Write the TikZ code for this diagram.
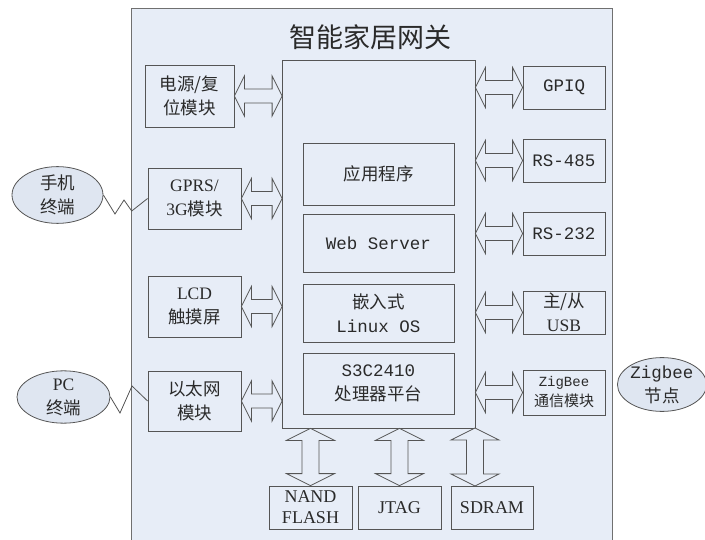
\documentclass[tikz,border=0pt]{standalone}
\usepackage{fontspec}
\setmainfont{Liberation Serif}
\setmonofont{Liberation Mono}
\newfontfamily\cjk{Noto Sans CJK SC}
\usetikzlibrary{calc,shapes.geometric}
\definecolor{bgc}{HTML}{E7EDF7}
\definecolor{elc}{HTML}{DFE6F1}
\definecolor{linec}{HTML}{555555}
\definecolor{outc}{HTML}{707070}
\definecolor{txt}{HTML}{2A2A2A}
\newcommand{\zh}{\cjk\fontsize{17.5}{24}\selectfont}
\newcommand{\mo}{\ttfamily\fontsize{17.5}{24}\selectfont}
\tikzset{
  box/.style={draw=linec, line width=0.8pt, inner sep=0pt, align=center, text=txt,
    font=\fontsize{17.5}{24}\selectfont},
  ell/.style={ellipse, draw=linec, line width=0.8pt, fill=elc, inner sep=0pt, align=center,
    text=txt, font=\fontsize{17.5}{24}\selectfont},
  dbl/.style={draw=linec, line width=0.8pt, fill=bgc, line join=miter},
  hdbl/.style={dbl, to path={let \p1=(\tikztostart), \p2=(\tikztotarget) in
    -- (\x1+10pt,\y1+20pt) -- (\x1+10pt,\y1+7pt) -- (\x2-10pt,\y1+7pt) -- (\x2-10pt,\y1+20pt)
    -- (\x2,\y1) -- (\x2-10pt,\y1-20pt) -- (\x2-10pt,\y1-7pt) -- (\x1+10pt,\y1-7pt)
    -- (\x1+10pt,\y1-20pt) -- cycle}},
  vdbl/.style={dbl, to path={let \p1=(\tikztostart), \p2=(\tikztotarget) in
    -- (\x1+24pt,\y1-12pt) -- (\x1+8.5pt,\y1-12pt) -- (\x1+8.5pt,\y2+12pt) -- (\x1+24pt,\y2+12pt)
    -- (\x1,\y2) -- (\x1-24pt,\y2+12pt) -- (\x1-8.5pt,\y2+12pt) -- (\x1-8.5pt,\y1-12pt)
    -- (\x1-24pt,\y1-12pt) -- cycle}},
  zz/.style={draw=linec, line width=0.8pt, line join=miter}
}
\begin{document}
\begin{tikzpicture}[x=1pt,y=-1pt]
\useasboundingbox (0,0) rectangle (705,540);
% gateway frame
\fill[bgc] (131,9) rectangle (612,545);
\draw[outc, line width=1pt] (131,545) -- (131,9) -- (612,9) -- (612,545);
\node[text=txt, font=\cjk\fontsize{27}{30}\selectfont] (title) at (370,37) {智能家居网关};
% cpu
\node[box, minimum width=192.5pt, minimum height=368pt] (cpu) at (378.75,244) {};
\node[box, minimum width=151pt, minimum height=62pt] (app) at (378.5,174) {\zh 应用程序};
\node[box, minimum width=151pt, minimum height=58pt] (web) at (378.5,243) {\mo Web Server};
\node[box, minimum width=151pt, minimum height=58pt] (os) at (378.5,313) {\zh 嵌入式\\\mo Linux OS};
\node[box, minimum width=151pt, minimum height=61pt] (soc) at (378.5,383.5) {\mo S3C2410\\\zh 处理器平台};
% left modules
\node[box, minimum width=89pt, minimum height=62pt] (pwr) at (189.5,96) {\zh 电源/复\\\zh 位模块};
\node[box, minimum width=93pt, minimum height=61pt] (gprs) at (194.5,198.5) {GPRS/\\3G{\zh 模块}};
\node[box, minimum width=93pt, minimum height=61pt] (lcd) at (194.5,306.5) {LCD\\\zh 触摸屏};
\node[box, minimum width=93pt, minimum height=60pt] (eth) at (194.5,401) {\zh 以太网\\\zh 模块};
% right modules
\node[box, minimum width=82pt, minimum height=43pt] (gpiq) at (564,87.5) {\mo GPIQ};
\node[box, minimum width=82pt, minimum height=43pt] (rs485) at (564,160.5) {\mo RS-485};
\node[box, minimum width=82pt, minimum height=43pt] (rs232) at (564,233.5) {\mo RS-232};
\node[box, minimum width=82pt, minimum height=43pt] (usb) at (564,312.5) {\zh 主/从\\USB};
\node[box, minimum width=82pt, minimum height=45pt, font=\fontsize{14}{20}\selectfont] (zb) at (564,392.5) {\ttfamily ZigBee\\\cjk\fontsize{15}{20}\selectfont 通信模块};
% bottom modules
\node[box, minimum width=83pt, minimum height=43pt, font=\fontsize{18}{21}\selectfont] (nand) at (310.5,507.5) {NAND\\FLASH};
\node[box, minimum width=83pt, minimum height=43pt, font=\fontsize{18}{21}\selectfont] (jtag) at (399.5,507.5) {JTAG};
\node[box, minimum width=82pt, minimum height=43pt, font=\fontsize{18}{21}\selectfont] (sdram) at (492,507.5) {SDRAM};
% terminals
\node[ell, minimum width=91pt, minimum height=50pt] (phone) at (57.5,195) {\zh 手机\\\zh 终端};
\node[ell, minimum width=93pt, minimum height=50pt] (pc) at (63.5,397) {PC\\\zh 终端};
\node[ell, minimum width=80pt, minimum height=45pt] (zbn) at (662,384.5) {\mo Zigbee\\\zh 节点};
% double arrows left
\draw[hdbl] (pwr.east) to (cpu.west |- pwr.east);
\draw[hdbl] (gprs.east) to (cpu.west |- gprs.east);
\draw[hdbl] (lcd.east) to (cpu.west |- lcd.east);
\draw[hdbl] (eth.east) to (cpu.west |- eth.east);
% double arrows right
\draw[hdbl] (cpu.east |- gpiq.west) to (gpiq.west);
\draw[hdbl] (cpu.east |- rs485.west) to (rs485.west);
\draw[hdbl] (cpu.east |- rs232.west) to (rs232.west);
\draw[hdbl] (cpu.east |- usb.west) to (usb.west);
\draw[hdbl] (cpu.east |- zb.west) to (zb.west);
% double arrows bottom
\draw[vdbl] (cpu.south -| nand.north) to (nand.north);
\draw[vdbl] (cpu.south -| jtag.north) to (jtag.north);
\coordinate (sdt) at (475,428);
\coordinate (sdb) at (475,486);
\draw[vdbl] (sdt) to (sdb);
% lightning links
\draw[zz] (phone.east) -- (115,214) -- (124,200) -- (131.7,211) -- (gprs.west);
\draw[zz] (pc.east) -- (120,413) -- (132,386) -- (eth.west);
\end{tikzpicture}
\end{document}
